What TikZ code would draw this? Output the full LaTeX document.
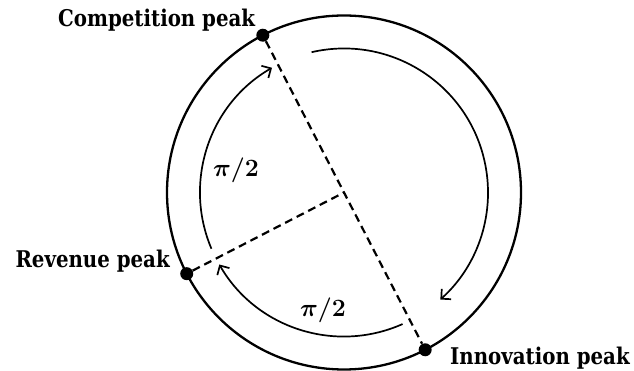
\documentclass[tikz,border=0pt]{standalone}
\usepackage{fontspec}
\setmainfont{DejaVu Serif}
\newfontfamily\lblfont[FakeStretch=0.86]{DejaVu Serif}
\usetikzlibrary{arrows.meta}
\begin{document}
\begin{tikzpicture}[x=1pt,y=1pt,
  lbl/.style={font=\lblfont\bfseries\fontsize{23}{26}\selectfont, inner sep=0pt},
  ang/.style={font=\fontsize{26}{28}\selectfont\mathversion{bold}, inner sep=0pt},
  pk/.style={circle, fill=black, inner sep=0pt, minimum size=13pt},
  dsh/.style={line width=2.2pt, dash pattern=on 8pt off 5pt},
  arcst/.style={line width=1.7pt, -{Straight Barb[length=7pt,width=14pt,line width=1.7pt]}}]
\useasboundingbox (0,0) rectangle (634,371);
\coordinate (O) at (344,178.5);
\draw[line width=2.3pt] (O) circle[radius=177];
\node[pk] (cp) at ([shift={(117.3:177)}]O) {};
\node[pk] (rp) at ([shift={(207.3:177)}]O) {};
\node[pk] (ip) at ([shift={(297.3:177)}]O) {};
\draw[dsh] (cp) -- (ip);
\draw[dsh] (rp) -- (O);
\draw[arcst] ([shift={(103:144)}]O) arc[start angle=103, end angle=-48, radius=144];
\draw[arcst] ([shift={(203:144)}]O) arc[start angle=203, end angle=120, radius=144];
\draw[arcst] ([shift={(294:144)}]O) arc[start angle=294, end angle=210, radius=144];
\node[lbl, anchor=base west] (cpl) at (58,344) {Competition peak};
\node[lbl, anchor=base east] (rpl) at (170,103) {Revenue peak};
\node[lbl, anchor=base west] (ipl) at (450,6) {Innovation peak};
\node[ang] (a1) at (236,201) {$\pi/2$};
\node[ang] (a2) at (323,61) {$\pi/2$};
\end{tikzpicture}
\end{document}
